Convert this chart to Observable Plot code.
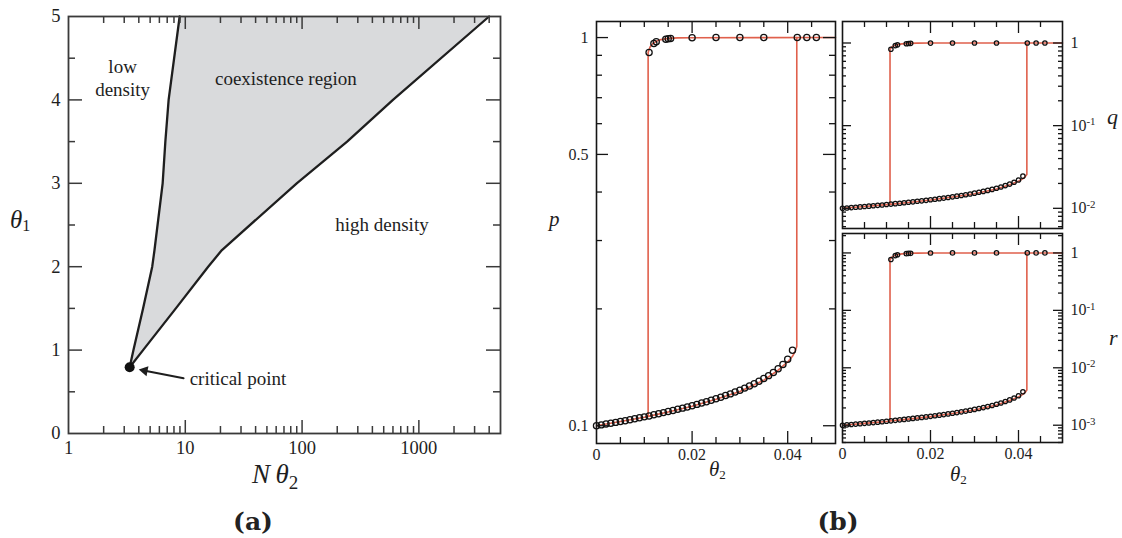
<!DOCTYPE html>
<html>
<head>
<meta charset="utf-8">
<script src="https://cdn.jsdelivr.net/npm/d3@7"></script>
<script src="https://cdn.jsdelivr.net/npm/@observablehq/plot@0.6"></script>
<style>
  body { margin: 0; background: #fff; }
  #root { position: relative; width: 1122px; height: 538px; overflow: hidden; background: #fff; color: #222; font-family: "Liberation Serif", serif; }
  .pane { position: absolute; }
  .t { position: absolute; white-space: nowrap; line-height: 1; font-family: "Liberation Serif", serif; color: #1e1e1e; }
  .t i { font-style: italic; }
  .sub { display: inline-block; font-style: normal; }
  .tag { position: absolute; white-space: nowrap; line-height: 1; font-family: "DejaVu Serif", serif; font-weight: bold; color: #222; transform: translateX(-50%); }
</style>
</head>
<body>
<div id="root"></div>
<script>
// ================= Panel (a): phase diagram =================
const phaseTheta1     = [0.795, 1, 1.5, 2, 2.2, 3, 3.5, 4, 5];
const lowDensityEdge  = [3.34, 3.6, 4.35, 5.21, 5.45, 6.4, 6.75, 7.2, 8.95];
const highDensityEdge = [3.34, 4.35, 8.3, 15.7, 20.6, 90, 243, 600, 3990];
const criticalPoint   = [{x: 3.34, y: 0.795}];
const criticalArrow   = [{x1: 9.67, y1: 0.663, x2: 4.4, y2: 0.755}];
const criticalArrowHead = [{x: 4.48, y: 0.754, angle: 281}];
const regionNotes = [
  {label: "low\ndensity",        x: 2.906, y: 4.273},
  {label: "coexistence region",  x: 72.7,  y: 4.266},
  {label: "high density",        x: 483,   y: 2.516}
];
const pointNote = [{label: "critical point", x: 10.9, y: 0.649}];
const aXTickLabels = [1, 10, 100, 1000];
const aYTickLabels = [0, 1, 2, 3, 4, 5];
const aXMajor = [10, 100, 1000];
const aXMinor = [2,3,4,5,6,7,8,9,20,30,40,50,60,70,80,90,200,300,400,500,600,700,800,900,2000,3000,4000];
const aYMajor = [1, 2, 3, 4];
const aYMinor = [0.5, 1.5, 2.5, 3.5, 4.5];

// ================= Panel (b): simulation (circles) and theory (lines) =================
const thetaLow = [0,0.001,0.002,0.003,0.004,0.005,0.006,0.007,0.008,0.009,0.010,0.011,0.012,0.013,0.014,0.015,0.016,0.017,0.018,0.019,0.020,0.021,0.022,0.023,0.024,0.025,0.026,0.027,0.028,0.029,0.030,0.031,0.032,0.033,0.034,0.035,0.036,0.037,0.038,0.039,0.040,0.041];
const pLow = [0.1000,0.1005,0.1010,0.1015,0.1020,0.1025,0.1030,0.1036,0.1042,0.1048,0.1054,0.1060,0.1067,0.1074,0.1081,0.1088,0.1095,0.1103,0.1110,0.1118,0.1126,0.1135,0.1144,0.1153,0.1163,0.1173,0.1184,0.1196,0.1208,0.1221,0.1235,0.1250,0.1266,0.1283,0.1302,0.1323,0.1346,0.1372,0.1402,0.1438,0.1483,0.1565];
const qLow = [0.01000,0.01010,0.01020,0.01030,0.01040,0.01051,0.01061,0.01073,0.01086,0.01098,0.01111,0.01124,0.01138,0.01153,0.01169,0.01184,0.01199,0.01217,0.01232,0.01250,0.01268,0.01288,0.01309,0.01329,0.01353,0.01376,0.01402,0.01430,0.01459,0.01491,0.01525,0.01563,0.01603,0.01646,0.01695,0.01750,0.01812,0.01882,0.01966,0.02068,0.02199,0.02449];
const rLow = [0.001000,0.001015,0.001030,0.001046,0.001061,0.001077,0.001093,0.001112,0.001131,0.001151,0.001171,0.001191,0.001215,0.001239,0.001263,0.001288,0.001313,0.001342,0.001368,0.001397,0.001428,0.001462,0.001497,0.001533,0.001573,0.001614,0.001660,0.001711,0.001763,0.001820,0.001884,0.001953,0.002029,0.002112,0.002207,0.002316,0.002439,0.002583,0.002756,0.002974,0.003262,0.003833];

const thetaHigh = [0.011, 0.012, 0.0125, 0.0145, 0.015, 0.0155, 0.02, 0.025, 0.03, 0.035, 0.042, 0.044, 0.046];
const pHigh = [0.915, 0.965, 0.975, 0.990, 0.993, 0.995, 0.999, 1, 1, 1, 1, 1, 1];
const qHigh = [0.840, 0.930, 0.950, 0.980, 0.986, 0.990, 0.998, 1, 1, 1, 1, 1, 1];
const rHigh = [0.770, 0.900, 0.930, 0.970, 0.980, 0.985, 0.997, 1, 1, 1, 1, 1, 1];

const thetaTheoryLow = [0, 0.005, 0.01, 0.0108, 0.015, 0.02, 0.025, 0.03, 0.035, 0.038, 0.04, 0.041, 0.0415, 0.0419];
const pTheoryLow = [0.1, 0.1025, 0.1052, 0.1057, 0.1085, 0.1122, 0.117, 0.1225, 0.131, 0.139, 0.146, 0.151, 0.155, 0.160];
const qTheoryLow = [0.01, 0.0105, 0.01107, 0.01117, 0.01177, 0.01259, 0.01369, 0.01501, 0.01716, 0.01932, 0.02132, 0.0228, 0.02403, 0.0256];
const rTheoryLow = [0.001, 0.001077, 0.001164, 0.001181, 0.001277, 0.001412, 0.001602, 0.001838, 0.002248, 0.002686, 0.003112, 0.003443, 0.003724, 0.004096];

const thetaTheoryHigh = [0.0108, 0.0112, 0.0118, 0.0125, 0.0135, 0.015, 0.017, 0.02, 0.05];
const pTheoryHigh = [0.915, 0.945, 0.965, 0.978, 0.988, 0.995, 0.998, 0.999, 1];
const qTheoryHigh = [0.837, 0.893, 0.931, 0.956, 0.976, 0.990, 0.996, 0.998, 1];
const rTheoryHigh = [0.766, 0.844, 0.899, 0.935, 0.964, 0.985, 0.994, 0.997, 1];

const bXTickLabels = [0, 0.02, 0.04];
const bXMajor = [0.02, 0.04];
const bXMinor = [0.005, 0.01, 0.015, 0.025, 0.03, 0.035, 0.045];
const pYTickLabels = [0.1, 0.5, 1];
const pYMajor = [0.1, 0.5, 1];
const pYMinor = [0.2, 0.3, 0.4, 0.6, 0.7, 0.8, 0.9];
const qYTickLabels = [1, 0.1, 0.01];
const qYMinor = [0.006,0.007,0.008,0.009,0.02,0.03,0.04,0.05,0.06,0.07,0.08,0.09,0.2,0.3,0.4,0.5,0.6,0.7,0.8,0.9];
const rYTickLabels = [1, 0.1, 0.01, 0.001];
const rYMinor = [0.0005,0.0006,0.0007,0.0008,0.0009,0.002,0.003,0.004,0.005,0.006,0.007,0.008,0.009,0.02,0.03,0.04,0.05,0.06,0.07,0.08,0.09,0.2,0.3,0.4,0.5,0.6,0.7,0.8,0.9,2];

// ================= helpers =================
const root = document.getElementById("root");
const RED = "#e0604c";
const INK = "#1e1e1e";

function place(svg, left, top) {
  const d = document.createElement("div");
  d.className = "pane";
  d.style.left = left + "px";
  d.style.top = top + "px";
  d.appendChild(svg);
  root.appendChild(d);
}
function ticksX(vals, len, ih, o) {
  return [
    Plot.tickX(vals, {x: d => d, insetTop: ih - len, ...o}),
    Plot.tickX(vals, {x: d => d, insetBottom: ih - len, ...o})
  ];
}
function ticksY(vals, len, iw, o) {
  return [
    Plot.tickY(vals, {y: d => d, insetRight: iw - len, ...o}),
    Plot.tickY(vals, {y: d => d, insetLeft: iw - len, ...o})
  ];
}
function label(html, left, top, size) {
  const d = document.createElement("div");
  d.className = "t";
  d.style.left = left + "px";
  d.style.top = top + "px";
  d.style.fontSize = size + "px";
  d.innerHTML = html;
  root.appendChild(d);
}
function tag(text, cx, top, size) {
  const d = document.createElement("div");
  d.className = "tag";
  d.style.left = cx + "px";
  d.style.top = top + "px";
  d.style.fontSize = size + "px";
  d.textContent = text;
  root.appendChild(d);
}
const styleFor = size => `background: transparent; overflow: visible; font-family: 'Liberation Serif', serif; font-size: ${size}px; color: ${INK};`;
const serif = "'Liberation Serif', serif";

// ================= draw panel (a) =================
{
  const W = 520, H = 470, m = {l: 68, r: 20, t: 16, b: 37};
  const iw = W - m.l - m.r, ih = H - m.t - m.b;
  const rows = phaseTheta1.map((y, i) => ({y, lo: lowDensityEdge[i], hi: highDensityEdge[i]}));
  const tk = {stroke: "#3a3a3a", strokeWidth: 1.5};
  const svg = Plot.plot({
    width: W, height: H,
    marginLeft: m.l, marginRight: m.r, marginTop: m.t, marginBottom: m.b,
    style: styleFor(18.5),
    x: {type: "log", domain: [1, 5000]},
    y: {domain: [0, 5]},
    marks: [
      Plot.areaX(rows, {y: "y", x1: "lo", x2: "hi", fill: "#d9dadc"}),
      Plot.line(rows, {x: "lo", y: "y", stroke: INK, strokeWidth: 2.3}),
      Plot.line(rows, {x: "hi", y: "y", stroke: INK, strokeWidth: 2.3}),
      Plot.dot(criticalPoint, {x: "x", y: "y", r: 5, fill: "#111", stroke: "none"}),
      Plot.arrow(criticalArrow, {x1: "x1", y1: "y1", x2: "x2", y2: "y2", stroke: INK, strokeWidth: 2, headLength: 0}),
      Plot.dot(criticalArrowHead, {x: "x", y: "y", symbol: "triangle", rotate: "angle", r: 3.8, fill: INK, stroke: "none"}),
      Plot.text(regionNotes, {x: "x", y: "y", text: "label", textAnchor: "middle", fontSize: 19, lineHeight: 1.23, fill: INK, fontFamily: serif}),
      Plot.text(pointNote, {x: "x", y: "y", text: "label", textAnchor: "start", fontSize: 19, fill: INK, fontFamily: serif}),
      ...ticksX(aXMajor, 13, ih, tk),
      ...ticksX(aXMinor, 7, ih, tk),
      ...ticksY(aYMajor, 14, iw, tk),
      ...ticksY(aYMinor, 7, iw, tk),
      Plot.frame({stroke: "#3a3a3a", strokeWidth: 1.8}),
      Plot.axisX(aXTickLabels, {tickSize: 0, tickPadding: 7, label: null, tickFormat: d => String(d), fontSize: 18.5, fontFamily: serif}),
      Plot.axisY(aYTickLabels, {tickSize: 0, tickPadding: 8, label: null, tickFormat: d => String(d), fontSize: 18.5, fontFamily: serif})
    ]
  });
  place(svg, 0, 0);
}

// ================= draw panel (b) sub-plots =================
function theoryRows(lowVals, highVals) {
  const a = thetaTheoryLow.map((t, i) => ({t, v: lowVals[i], k: "spinodal-low"}));
  a.push({t: thetaTheoryLow[thetaTheoryLow.length - 1], v: highVals[highVals.length - 1], k: "spinodal-low"});
  const j = thetaTheoryLow.indexOf(thetaTheoryHigh[0]);
  const b = [{t: thetaTheoryHigh[0], v: lowVals[j], k: "spinodal-high"}]
    .concat(thetaTheoryHigh.map((t, i) => ({t, v: highVals[i], k: "spinodal-high"})));
  return a.concat(b);
}
function simRows(lowVals, highVals) {
  return thetaLow.map((t, i) => ({t, v: lowVals[i]}))
    .concat(thetaHigh.map((t, i) => ({t, v: highVals[i]})));
}
function superscripts(svg) {
  d3.select(svg).selectAll('g[aria-label="y-axis tick label"] text').each(function () {
    const s = this.textContent;
    const mm = s.match(/^10\^(-?\d+)$/);
    if (mm) {
      const sel = d3.select(this);
      sel.text(null);
      sel.append("tspan").text("10");
      sel.append("tspan").attr("dy", "-0.5em").attr("font-size", "0.68em").text(mm[1]);
    }
  });
}
function bPanel(o) {
  const iw = o.W - o.m.l - o.m.r, ih = o.H - o.m.t - o.m.b;
  const tk = {stroke: "#151515", strokeWidth: 1.3};
  const marks = [
    Plot.line(theoryRows(o.tl, o.th), {x: "t", y: "v", z: "k", stroke: RED, strokeWidth: 1.6}),
    Plot.dot(simRows(o.sl, o.sh), {x: "t", y: "v", r: o.r, stroke: "#111", strokeWidth: 1.25, fill: "none"}),
    ...ticksX(bXMajor, 12, ih, tk),
    ...ticksX(bXMinor, 6, ih, tk),
    ...ticksY(o.yMajor, o.yMajorLen, iw, tk),
    ...ticksY(o.yMinor, o.yMinorLen, iw, tk),
    Plot.frame({stroke: "#151515", strokeWidth: 1.6}),
    Plot.axisY(o.yLabels, {anchor: o.yAnchor, tickSize: 0, tickPadding: 8, label: null, tickFormat: o.yFormat, fontSize: 16, fontFamily: serif})
  ];
  if (o.xLabels) marks.push(Plot.axisX(o.xLabels, {tickSize: 0, tickPadding: 5, label: null, tickFormat: d => String(d), fontSize: 16, fontFamily: serif}));
  const svg = Plot.plot({
    width: o.W, height: o.H,
    marginLeft: o.m.l, marginRight: o.m.r, marginTop: o.m.t, marginBottom: o.m.b,
    style: styleFor(16),
    x: {domain: [0, 0.05], axis: o.xLabels ? undefined : null},
    y: {type: "log", domain: o.yDomain},
    marks
  });
  superscripts(svg);
  place(svg, o.left, o.top);
}
const powFmt = d => d === 1 ? "1" : "10^" + Math.round(Math.log10(d));

bPanel({left: 540, top: 0, W: 300, H: 470, m: {l: 56, r: 5, t: 21, b: 27},
  yDomain: [0.09, 1.1], yMajor: pYMajor, yMinor: pYMinor, yMajorLen: 12, yMinorLen: 6,
  yLabels: pYTickLabels, yAnchor: "left", yFormat: d => String(d),
  tl: pTheoryLow, th: pTheoryHigh, sl: pLow, sh: pHigh, r: 3.1, xLabels: bXTickLabels});

bPanel({left: 820, top: 0, W: 302, H: 240, m: {l: 22, r: 60, t: 21, b: 12},
  yDomain: [0.0057, 1.82], yMajor: qYTickLabels, yMinor: qYMinor, yMajorLen: 9, yMinorLen: 4,
  yLabels: qYTickLabels, yAnchor: "right", yFormat: powFmt,
  tl: qTheoryLow, th: qTheoryHigh, sl: qLow, sh: qHigh, r: 2.2, xLabels: null});

bPanel({left: 820, top: 220, W: 302, H: 260, m: {l: 22, r: 60, t: 13, b: 38},
  yDomain: [0.0005, 2.18], yMajor: rYTickLabels, yMinor: rYMinor, yMajorLen: 9, yMinorLen: 4,
  yLabels: rYTickLabels, yAnchor: "right", yFormat: powFmt,
  tl: rTheoryLow, th: rTheoryHigh, sl: rLow, sh: rHigh, r: 2.2, xLabels: bXTickLabels});

// ================= axis titles and panel tags =================
label('<i>θ</i><span class="sub" style="font-size:16px;vertical-align:-3px">1</span>', 10, 207, 25);
label('<i>N</i>&thinsp;<i>θ</i><span class="sub" style="font-size:19px;vertical-align:-6px">2</span>', 252, 461, 27);
label('<i>θ</i><span class="sub" style="font-size:13px;vertical-align:-3px">2</span>', 709, 459, 21);
label('<i>θ</i><span class="sub" style="font-size:13px;vertical-align:-3px">2</span>', 950, 464, 21);
label('<i>p</i>', 549, 209, 21);
label('<i>q</i>', 1107, 106, 22);
label('<i>r</i>', 1109, 327, 22);
tag("(a)", 253, 509, 25);
tag("(b)", 838, 509, 25);
</script>
</body>
</html>
